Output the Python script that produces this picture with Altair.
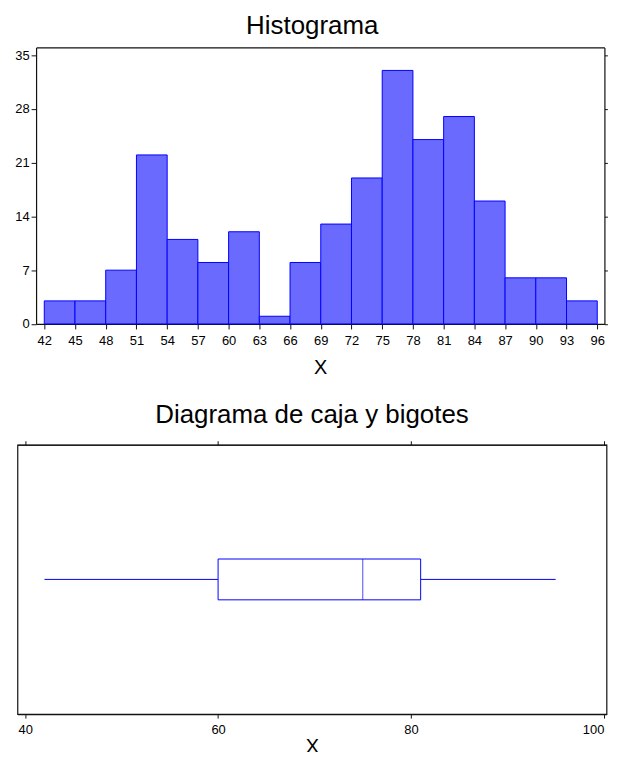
import altair as alt
import pandas as pd

# ---- data ----
bin_start = [42, 45, 48, 51, 54, 57, 60, 63, 66, 69, 72, 75, 78, 81, 84, 87, 90, 93]
counts = [3, 3, 7, 22, 11, 8, 12, 1, 8, 13, 19, 33, 24, 27, 16, 6, 6, 3]
bin_width = 3
hist_x_ticks = [42, 45, 48, 51, 54, 57, 60, 63, 66, 69, 72, 75, 78, 81, 84, 87, 90, 93, 96]
hist_y_ticks = [0, 7, 14, 21, 28, 35]

box_stats = {"min": 42, "q1": 60, "median": 75, "q3": 81, "max": 95}
box_x_ticks = [40, 60, 80, 100]

FONT = "Liberation Sans"
BLUE = "#0000ff"
FILL = "#6a6aff"
FRAME = "#111111"

hist_df = pd.DataFrame({
    "start": bin_start,
    "end": [s + bin_width for s in bin_start],
    "count": counts,
})
box_df = pd.DataFrame({"var": ["X"], **{k: [v] for k, v in box_stats.items()}})

axis_style = dict(domainColor=FRAME, tickColor=FRAME, labelColor="#000000",
                  labelFont=FONT, labelFontSize=13, titleFont=FONT, titleFontSize=20,
                  titleFontWeight="normal", titleColor="#000000", grid=False,
                  domainWidth=1.2)

HIST_W = 592
BOX_W = 591.5
H_LEFT, H_RIGHT = 18.7, 589.4

# ---- histogram ----
hx = alt.Scale(domain=[41.2, 96.7], nice=False, zero=False, range=[H_LEFT, H_RIGHT])
hy = alt.Scale(domain=[0, 36], nice=False, zero=True)

bars = alt.Chart(hist_df).mark_bar(fill=FILL, stroke=BLUE, strokeWidth=1, opacity=1).encode(
    x=alt.X("start:Q", scale=hx,
            axis=alt.Axis(values=hist_x_ticks, title="X", tickSize=5, labelPadding=6,
                          titlePadding=10, labelFlush=False, labelOverlap=False, **axis_style)),
    x2="end:Q",
    y=alt.Y("count:Q", scale=hy,
            axis=alt.Axis(values=hist_y_ticks, orient="left", title=None, tickSize=5,
                          labelPadding=2, labelFlush=False, offset=-H_LEFT,
                          **axis_style)),
    y2=alt.datum(0),
)
right_axis = alt.Chart(hist_df).mark_rule(opacity=0).encode(
    y=alt.Y("count:Q", scale=hy,
            axis=alt.Axis(values=hist_y_ticks, orient="right", title=None, labels=False,
                          tickSize=3, offset=-(HIST_W - H_RIGHT), **axis_style)),
)
top_frame = alt.Chart(hist_df).mark_rule(opacity=0).encode(
    x=alt.X("start:Q", scale=hx,
            axis=alt.Axis(orient="top", title=None, labels=False, ticks=False, **axis_style)),
)
hist = alt.layer(bars, right_axis, top_frame).resolve_axis(
    y="independent", x="independent"
).properties(
    width=HIST_W, height=277.7,
    view=alt.ViewBackground(stroke="transparent"),
    title=alt.TitleParams("Histograma", font=FONT, fontSize=26, fontWeight="normal",
                          color="#000000", offset=8),
)

# ---- box plot ----
bx = alt.Scale(domain=[39.2, 100.27], nice=False, zero=False)
by = alt.Y("var:N", axis=None)

whisk_lo = alt.Chart(box_df).mark_rule(color=BLUE, strokeWidth=1).encode(
    x=alt.X("min:Q", scale=bx,
            axis=alt.Axis(values=box_x_ticks, title="X", tickSize=4, labelPadding=5,
                          titlePadding=1, labelFlush=3, **axis_style)),
    x2="q1:Q", y=by)
whisk_hi = alt.Chart(box_df).mark_rule(color=BLUE, strokeWidth=1).encode(
    x=alt.X("q3:Q", scale=bx, axis=None), x2="max:Q", y=by)
box = alt.Chart(box_df).mark_bar(size=41, fill="white", stroke=BLUE, strokeWidth=1).encode(
    x=alt.X("q1:Q", scale=bx, axis=None), x2="q3:Q", y=by)
med = alt.Chart(box_df).mark_tick(size=41, thickness=1, color=BLUE).encode(
    x=alt.X("median:Q", scale=bx, axis=None), y=by)
top_axis = alt.Chart(box_df).mark_rule(opacity=0).encode(
    x=alt.X("median:Q", scale=bx,
            axis=alt.Axis(values=box_x_ticks, orient="top", title=None, labels=False,
                          tickSize=4, **axis_style)))

boxchart = alt.layer(whisk_lo, whisk_hi, box, med, top_axis).resolve_axis(x="independent").properties(
    width=BOX_W, height=270.5,
    title=alt.TitleParams("Diagrama de caja y bigotes", font=FONT, fontSize=26,
                          fontWeight="normal", color="#000000", offset=12.5),
)

chart = alt.vconcat(hist, boxchart, spacing=22).properties(
    padding={"left": 5.5, "top": 3, "right": 0, "bottom": -8},
    background="white",
).configure_view(stroke=FRAME, strokeWidth=1.2)

chart.save("out.html", embed_options={"renderer": "svg", "actions": False})
